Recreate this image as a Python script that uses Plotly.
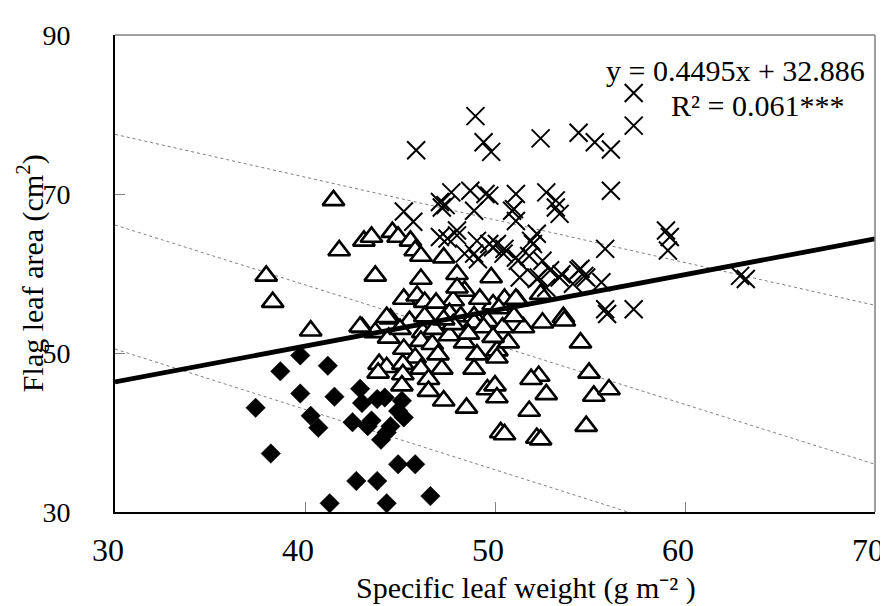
import plotly.graph_objects as go

# ---- data ----
diamond_x = [37.4, 38.2, 38.7, 39.75, 39.75, 40.3, 40.7, 41.2, 41.55, 41.3, 42.5, 42.9, 43.0, 42.7,
             43.3, 43.8, 43.8, 44.2, 44.0, 44.5, 44.9, 45.2, 45.1, 44.3, 44.9, 45.8, 46.6, 43.5, 44.3]
diamond_y = [43.1, 37.35, 47.7, 49.7, 44.9, 42.1, 40.6, 48.4, 44.5, 31.1, 41.3, 45.5, 43.7, 33.9,
             40.8, 44.2, 33.9, 44.4, 39.1, 40.8, 42.7, 41.9, 44.0, 31.1, 36.0, 36.0, 32.0, 41.5, 40.0]

tri_x = [37.96, 38.3, 40.3, 41.5, 41.8, 43.1, 43.5, 44.6, 44.9, 45.55, 45.8, 46.1, 47.3, 43.7, 46.1,
         48.0, 49.8, 45.2, 45.9, 46.3, 48.4, 47.8, 50.5, 51.2, 53.6, 44.5, 43.0, 43.7, 45.5, 46.3,
         47.6, 48.2, 48.9, 49.6, 46.2, 46.8, 47.6, 44.4, 45.2, 46.1, 46.7, 47.0, 45.8, 43.9, 44.3,
         43.85, 45.15, 45.15, 45.1, 46.1, 46.5, 47.2, 46.5, 47.3, 48.5, 49.05, 50.1, 48.9, 49.6, 50.0,
         50.1, 50.3, 50.5, 53.65, 54.5, 54.95, 55.2, 56.0, 52.3, 51.9, 52.7, 51.8, 52.2, 52.4, 54.8,
         52.4, 51.1, 48.9, 49.4, 48.4, 50.4, 50.7, 51.5, 49.9, 48.0, 49.9, 44.3, 42.9, 47.8, 50.1,
         48.6, 47.3, 51.0, 52.5, 50.2, 46.9, 45.0, 49.2]
tri_y = [59.7, 56.4, 52.8, 69.2, 62.9, 64.1, 64.6, 65.2, 64.6, 64.1, 62.9, 62.2, 62.0, 59.7, 59.3,
         59.9, 59.5, 56.8, 57.2, 56.4, 57.8, 56.6, 56.8, 56.6, 54.5, 54.3, 53.2, 52.6, 54.0, 54.6,
         55.0, 54.6, 54.6, 54.0, 52.6, 53.0, 52.2, 51.9, 50.5, 51.5, 51.1, 49.8, 49.4, 48.6, 48.2,
         47.5, 48.6, 47.3, 45.9, 48.0, 46.7, 48.0, 45.2, 44.0, 43.1, 49.8, 50.3, 48.0, 45.4, 45.9,
         44.4, 40.0, 39.75, 54.05, 51.3, 47.5, 44.6, 45.4, 47.1, 46.7, 44.8, 42.7, 39.3, 39.1, 40.8,
         57.4, 56.8, 53.8, 53.2, 51.3, 53.2, 51.3, 53.2, 52.0, 58.2, 56.1, 54.5, 53.3, 53.6, 49.4,
         52.4, 54.2, 54.6, 53.8, 55.6, 56.3, 53.0, 56.8]

cross_x = [45.85, 48.97, 49.4, 49.8, 52.4, 54.4, 55.25, 56.1, 57.3, 57.3, 56.1, 47.7, 48.7, 49.5,
           51.1, 52.7, 53.2, 47.1, 47.4, 53.2, 53.4, 51.0, 51.1, 48.9, 48.0, 52.2, 52.0, 55.8, 59.0,
           59.2, 59.1, 62.9, 63.2, 48.9, 49.1, 50.1, 50.45, 51.2, 51.8, 52.5, 52.9, 51.3, 52.3, 53.4,
           54.4, 54.8, 55.6, 55.8, 55.9, 57.3, 54.1, 52.7, 49.7, 50.9, 51.9, 49.7, 50.5, 51.1, 53.5,
           54.5, 54.7, 45.2, 45.7, 47.2, 47.5, 49.05, 48.0, 48.4, 49.9, 47.1, 52.2]
cross_y = [75.5, 79.8, 76.5, 75.3, 77.0, 77.7, 76.5, 75.6, 82.7, 78.6, 70.4, 70.2, 70.4, 70.0,
           70.0, 70.2, 69.2, 69.0, 68.6, 68.3, 67.5, 68.1, 66.6, 67.9, 65.4, 65.0, 63.7, 63.1, 65.4,
           64.6, 62.9, 59.7, 59.3, 62.5, 61.8, 63.7, 62.5, 61.6, 62.2, 61.6, 60.4, 59.5, 59.5, 59.5,
           60.4, 59.5, 58.9, 55.5, 54.9, 55.5, 58.7, 58.2, 69.8, 67.9, 64.1, 63.7, 63.1, 62.0, 59.9,
           60.6, 59.7, 67.8, 66.5, 68.3, 64.4, 64.1, 64.8, 62.5, 63.3, 64.6, 59.3]

# regression
slope, intercept = 0.4495, 32.886
reg_x = [30, 70]
reg_y = [slope * v + intercept for v in reg_x]

# dotted guide lines (endpoints)
guide1_x, guide1_y = [30, 70], [77.5, 56.0]
guide2_x, guide2_y = [30, 70], [66.1, 36.0]
guide3_x, guide3_y = [30, 57.0], [50.5, 30.0]

x_ticks = [30, 40, 50, 60, 70]
y_ticks = [30, 50, 70, 90]

FONT = "Liberation Serif, Times New Roman, serif"

fig = go.Figure()

for gx, gy in [(guide1_x, guide1_y), (guide2_x, guide2_y), (guide3_x, guide3_y)]:
    fig.add_trace(go.Scatter(x=gx, y=gy, mode="lines",
                             line=dict(color="#808080", width=1, dash="dot"),
                             hoverinfo="skip", showlegend=False))

fig.add_trace(go.Scatter(x=tri_x, y=tri_y, mode="markers",
                         marker=dict(symbol="triangle-up", size=19, color="white",
                                     line=dict(color="black", width=2.6)),
                         showlegend=False))
fig.add_trace(go.Scatter(x=cross_x, y=cross_y, mode="markers",
                         marker=dict(symbol="x-thin", size=18, color="black",
                                     line=dict(color="black", width=2)),
                         showlegend=False))
fig.add_trace(go.Scatter(x=diamond_x, y=diamond_y, mode="markers",
                         marker=dict(symbol="diamond", size=15, color="black",
                                     line=dict(color="black", width=0.5)),
                         showlegend=False))
fig.add_trace(go.Scatter(x=reg_x, y=reg_y, mode="lines",
                         line=dict(color="black", width=4.8),
                         hoverinfo="skip", showlegend=False))

# regression text
fig.add_annotation(x=1.0, y=1.0, xref="paper", yref="paper", xanchor="right", yanchor="middle",
                   xshift=-8, yshift=-35, showarrow=False,
                   text="y = 0.4495x + 32.886", font=dict(family=FONT, size=30, color="black"))
fig.add_annotation(x=1.0, y=1.0, xref="paper", yref="paper", xanchor="right", yanchor="middle",
                   xshift=-29, yshift=-70, showarrow=False,
                   text="R² = 0.061***", font=dict(family=FONT, size=30, color="black"))

# axis titles
fig.add_annotation(x=0.541, y=0, xref="paper", yref="paper", xanchor="center", yanchor="middle",
                   yshift=-76, showarrow=False,
                   text="Specific leaf weight (g m⁻² )",
                   font=dict(family=FONT, size=30, color="black"))
fig.add_annotation(x=-0.111, y=0.5, xref="paper", yref="paper", xanchor="center", yanchor="middle",
                   textangle=-90, showarrow=False,
                   text="Flag leaf area (cm<sup>2</sup>)",
                   font=dict(family=FONT, size=30, color="black"))

# top/right frame (grey)
fig.add_shape(type="line", xref="paper", yref="paper", x0=0, x1=1, y0=1, y1=1,
              line=dict(color="#808080", width=1.5))
fig.add_shape(type="line", xref="paper", yref="paper", x0=1, x1=1, y0=0, y1=1,
              line=dict(color="#808080", width=1.5))

fig.update_layout(
    width=888, height=606,
    margin=dict(l=107, r=12, t=26, b=102),
    paper_bgcolor="white", plot_bgcolor="white",
    font=dict(family=FONT, size=30, color="black"),
    xaxis=dict(range=[30, 70], tickvals=x_ticks, ticks="inside", ticklen=10, tickcolor="#808080",
               showline=True, linecolor="black", linewidth=1.8, showgrid=False, zeroline=False,
               ticklabelstandoff=9, ticklabelshift=-7, ticklabeloverflow="allow",
               tickfont=dict(family=FONT, size=32)),
    yaxis=dict(range=[30, 90], tickvals=y_ticks, ticks="inside", ticklen=10, tickcolor="#808080",
               showline=True, linecolor="black", linewidth=1.8, showgrid=False, zeroline=False,
               ticklabelstandoff=37, tickfont=dict(family=FONT, size=28)),
)

fig.write_html("out.html")
